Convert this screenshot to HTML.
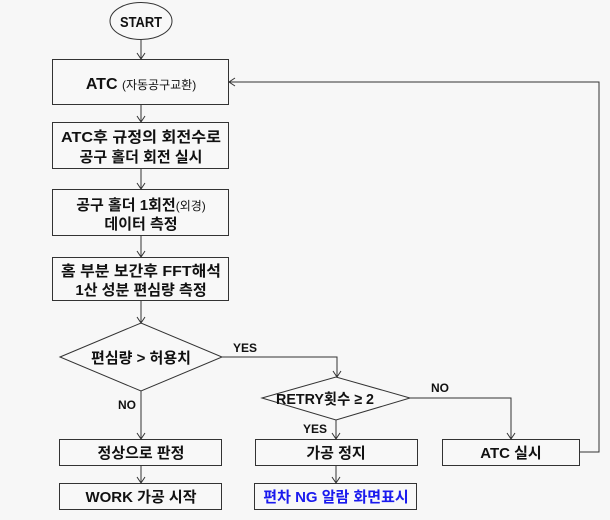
<!DOCTYPE html>
<html><head><meta charset="utf-8"><style>
html,body{margin:0;padding:0;background:#f7f7f7}
svg{display:block}
text{font-family:"Liberation Sans","Noto Sans CJK KR",sans-serif;font-weight:bold;fill:#111}
</style></head><body>
<svg width="610" height="520" viewBox="0 0 610 520">
<defs><marker id="a" markerWidth="10" markerHeight="10" refX="8" refY="5" orient="auto" markerUnits="userSpaceOnUse">
<path d="M2,1 L8,5 L2,9" fill="none" stroke="#333" stroke-width="1"/></marker></defs>
<g fill="#f8f8f8" stroke="#333" stroke-width="1">
<ellipse cx="141" cy="21" rx="31" ry="18.5"/>
<rect x="52.5" y="59.5" width="176" height="45"/>
<rect x="52.5" y="122.5" width="176" height="46"/>
<rect x="52.5" y="189.5" width="176" height="46"/>
<rect x="52.5" y="257.5" width="176" height="43"/>
<polygon points="60,357 141,323 222,357 141,391"/>
<polygon points="262,398 336,377 410,398 336,420"/>
<rect x="59.5" y="439.5" width="162" height="26"/>
<rect x="59.5" y="483.5" width="162" height="26"/>
<rect x="255.5" y="439.5" width="162" height="26"/>
<rect x="254.5" y="483.5" width="162" height="26"/>
<rect x="442.5" y="439.5" width="137" height="26"/>
</g>
<g stroke="#333" stroke-width="1" fill="none">
<line x1="141" y1="40" x2="141" y2="59" marker-end="url(#a)"/>
<line x1="141" y1="105" x2="141" y2="122" marker-end="url(#a)"/>
<line x1="141" y1="169" x2="141" y2="189" marker-end="url(#a)"/>
<line x1="141" y1="236" x2="141" y2="257" marker-end="url(#a)"/>
<line x1="141" y1="301" x2="141" y2="323" marker-end="url(#a)"/>
<line x1="141" y1="391" x2="141" y2="439" marker-end="url(#a)"/>
<line x1="141" y1="466" x2="141" y2="483" marker-end="url(#a)"/>
<polyline points="222,357 337,357 337,377" marker-end="url(#a)"/>
<line x1="336" y1="420" x2="336" y2="439" marker-end="url(#a)"/>
<line x1="336" y1="466" x2="336" y2="483" marker-end="url(#a)"/>
<polyline points="410,398 511,398 511,439" marker-end="url(#a)"/>
<polyline points="580,452 599,452 599,82 229,82" marker-end="url(#a)"/>
</g>
<g font-size="15" text-anchor="middle">
<text x="141" y="27" textLength="42" lengthAdjust="spacingAndGlyphs">START</text>
<text x="141" y="89"><tspan font-size="16">ATC </tspan><tspan font-size="12" font-weight="normal">(자동공구교환)</tspan></text>
<text x="141" y="142" textLength="160" lengthAdjust="spacingAndGlyphs">ATC후 규정의 회전수로</text>
<text x="141" y="162">공구 홀더 회전 실시</text>
<text x="141" y="210">공구 홀더 1회전<tspan font-size="12" font-weight="normal">(외경)</tspan></text>
<text x="141" y="229">데이터 측정</text>
<text x="141" y="276" textLength="160" lengthAdjust="spacingAndGlyphs">홈 부분 보간후 FFT해석</text>
<text x="141" y="295">1산 성분 편심량 측정</text>
<text x="141" y="363">편심량 &gt; 허용치</text>
<text x="325" y="404" textLength="98" lengthAdjust="spacingAndGlyphs" font-weight="normal">RETRY횟수 ≥ 2</text>
<text x="141" y="458">정상으로 판정</text>
<text x="141" y="502">WORK 가공 시작</text>
<text x="336" y="458">가공 정지</text>
<text x="336" y="502" style="fill:#1a1aee">편차 NG 알람 화면표시</text>
<text x="511" y="458">ATC 실시</text>
</g>
<g font-size="12">
<text x="233" y="352">YES</text>
<text x="431" y="392">NO</text>
<text x="118" y="409">NO</text>
<text x="303" y="433">YES</text>
</g>
</svg>
</body></html>
